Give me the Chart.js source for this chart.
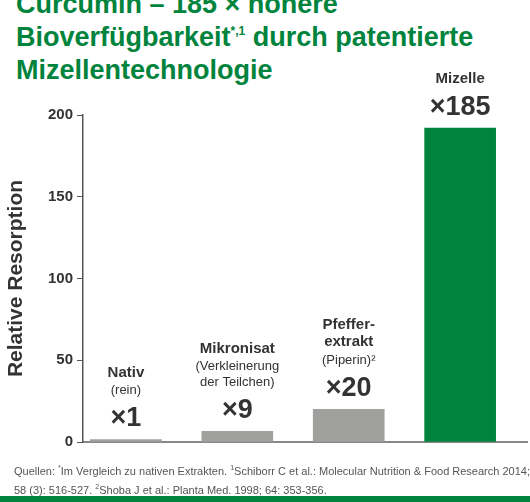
<!DOCTYPE html>
<html><head><meta charset="utf-8">
<script src="https://cdn.jsdelivr.net/npm/chart.js@4"></script>
<style>
body{margin:0;width:530px;height:502px;overflow:hidden;background:#fff;font-family:"Liberation Sans",Arial,sans-serif;position:relative}
#title{position:absolute;left:16px;top:-12px;color:#00843d;font-weight:bold;font-size:27px;line-height:33px}
#title sup{font-size:12px;vertical-align:top;line-height:20px}
#foot{position:absolute;left:14px;top:460px;font-size:11px;color:#555;line-height:15.5px;width:520px}
#band{position:absolute;left:0;right:0;top:496px;height:6px;background:#00843d}
canvas{position:absolute;left:0;top:0}
</style></head><body>
<div id="title">Curcumin – 185 × höhere<br>Bioverfügbarkeit<sup>*,1</sup> durch patentierte<br>Mizellentechnologie</div>
<canvas id="c" width="530" height="502"></canvas>
<div id="foot">Quellen: <sup style="font-size:7px">*</sup>Im Vergleich zu nativen Extrakten. <sup style="font-size:7px">1</sup>Schiborr C et al.: Molecular Nutrition &amp; Food Research 2014; 58 (3): 516-527. <sup style="font-size:7px">2</sup>Shoba J et al.: Planta Med. 1998; 64: 353-356.</div>
<div id="band"></div>
<script>
// chart values
const categories = ['Nativ', 'Mikronisat', 'Pfeffer-extrakt', 'Mizelle'];
const resorption = [1.5, 6.5, 20, 192];
const multipliers = ['×1', '×9', '×20', '×185'];
const headLines = [['Nativ'], ['Mikronisat'], ['Pfeffer-', 'extrakt'], ['Mizelle']];
const subLines = [['(rein)'], ['(Verkleinerung', 'der Teilchen)'], ['(Piperin)²'], []];
const barColors = ['#a0a09e', '#a0a09e', '#a0a09e', '#00843d'];
const yTicks = [0, 50, 100, 150, 200];

// draw the labels above each bar
const barLabels = {
  id: 'barLabels',
  afterDatasetsDraw(chart) {
    const ctx = chart.ctx;
    const bars = chart.getDatasetMeta(0).data;
    ctx.save();
    ctx.textAlign = 'center';
    ctx.textBaseline = 'middle';
    ctx.fillStyle = '#333';
    bars.forEach((bar, i) => {
      let y = bar.y - 21;
      ctx.font = 'bold 27px "Liberation Sans", Arial';
      ctx.fillText(multipliers[i], bar.x, y);
      y -= 28;
      ctx.font = '13px "Liberation Sans", Arial';
      [...subLines[i]].reverse().forEach(t => { ctx.fillText(t, bar.x, y); y -= 16; });
      if (subLines[i].length) y -= 2;
      ctx.font = 'bold 15px "Liberation Sans", Arial';
      [...headLines[i]].reverse().forEach(t => { ctx.fillText(t, bar.x, y); y -= 17; });
    });
    ctx.restore();
  }
};

new Chart(document.getElementById('c'), {
  type: 'bar',
  data: {
    datasets: [{
      data: resorption.map((v, i) => ({ x: i, y: v })),
      backgroundColor: barColors, barThickness: 71
    }]
  },
  options: {
    responsive: false,
    animation: false,
    layout: { padding: { top: 115, bottom: 60, left: 0, right: 3 } },
    plugins: { legend: { display: false }, tooltip: { enabled: false } },
    scales: {
      x: {
        type: 'linear', min: -0.385, max: 3.6, offset: false,
        afterFit(s) { s.height = 0; },
        grid: { display: false },
        border: { color: '#888', width: 2 },
        ticks: { display: false }
      },
      y: {
        min: 0, max: 200,
        afterFit(s) { s.width = 83; },
        afterBuildTicks(s) { s.ticks = yTicks.map(v => ({ value: v })); },
        grid: { drawOnChartArea: false, tickLength: 6, color: '#555' },
        border: { color: '#555', width: 1.5 },
        ticks: { color: '#333', font: { family: '"Liberation Sans", Arial', weight: 'bold', size: 15 }, padding: 4 },
        title: { display: true, text: 'Relative Resorption', color: '#333', font: { family: '"Liberation Sans", Arial', weight: 'bold', size: 21 }, padding: { bottom: 0 } }
      }
    }
  },
  plugins: [barLabels]
});
</script>
</body></html>
